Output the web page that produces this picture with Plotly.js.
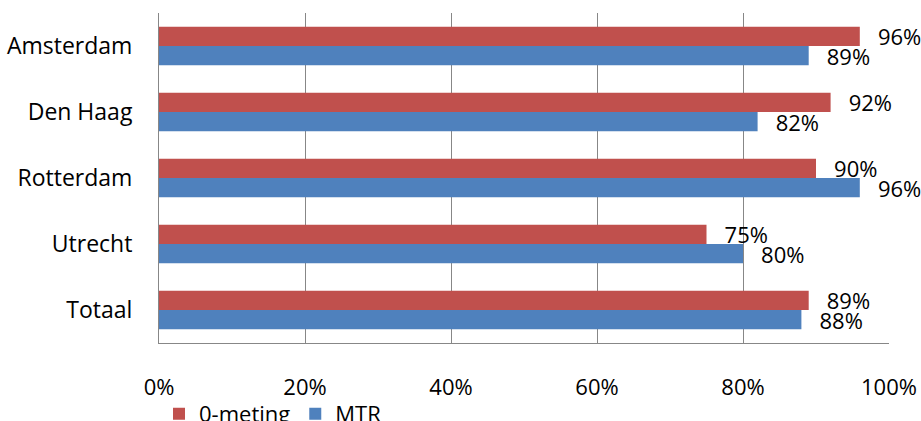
<!DOCTYPE html>
<html>
<head>
<meta charset="utf-8">
<script src="https://cdn.plot.ly/plotly-3.0.1.min.js"></script>
<style>html,body{margin:0;padding:0;background:#fff;}#chart{width:921px;height:421px;}</style>
</head>
<body>
<div id="chart"></div>
<script>
const categories = ["Amsterdam", "Den Haag", "Rotterdam", "Utrecht", "Totaal"];
const nulMeting = [96, 92, 90, 75, 89];
const mtr = [89, 82, 96, 80, 88];
const tickValues = [0, 20, 40, 60, 80, 100];
const tickLabels = ["0%", "20%", "40%", "60%", "80%", "100%"];

const FONT = "Open Sans, Liberation Sans, sans-serif";
const labelFont = {family: FONT, size: 22, color: "#000"};

function series(name, values, color) {
  return {
    type: "bar",
    orientation: "h",
    name: name,
    y: categories,
    x: values,
    marker: {color: color},
    text: values.map(v => "\u00a0\u00a0\u2009" + v + "%"),
    textposition: "outside",
    textfont: labelFont,
    outsidetextfont: labelFont,
    constraintext: "none",
    cliponaxis: false,
    hoverinfo: "none"
  };
}

const data = [
  series("0-meting", nulMeting, "#C0504D"),
  series("MTR", mtr, "#4F81BD")
];

const layout = {
  width: 921,
  height: 421,
  margin: {l: 159, r: 32, t: 13, b: 78, pad: 0, autoexpand: false},
  paper_bgcolor: "#fff",
  plot_bgcolor: "#fff",
  barmode: "group",
  bargap: 0.42,
  bargroupgap: 0,
  font: {family: FONT, size: 22, color: "#000"},
  showlegend: true,
  legend: {
    orientation: "h",
    x: 0.0,
    xanchor: "left",
    y: -0.215,
    yanchor: "middle",
    font: {family: FONT, size: 22, color: "#000"},
    itemwidth: 30,
    tracegroupgap: 0,
    bgcolor: "rgba(0,0,0,0)"
  },
  xaxis: {
    range: [0, 100],
    tickvals: tickValues,
    ticktext: tickLabels,
    showgrid: true,
    gridcolor: "#878787",
    gridwidth: 1,
    showline: true,
    linecolor: "#878787",
    linewidth: 1,
    ticks: "",
    ticklabelstandoff: 25,
    zeroline: false,
    tickfont: {family: FONT, size: 22, color: "#000"},
    fixedrange: true
  },
  yaxis: {
    autorange: "reversed",
    showgrid: false,
    showline: true,
    linecolor: "#878787",
    linewidth: 1,
    ticks: "",
    ticklabelstandoff: 21,
    tickfont: {family: FONT, size: 23, color: "#000"},
    fixedrange: true
  }
};

Plotly.newPlot("chart", data, layout, {displayModeBar: false, staticPlot: true});
</script>
</body>
</html>
